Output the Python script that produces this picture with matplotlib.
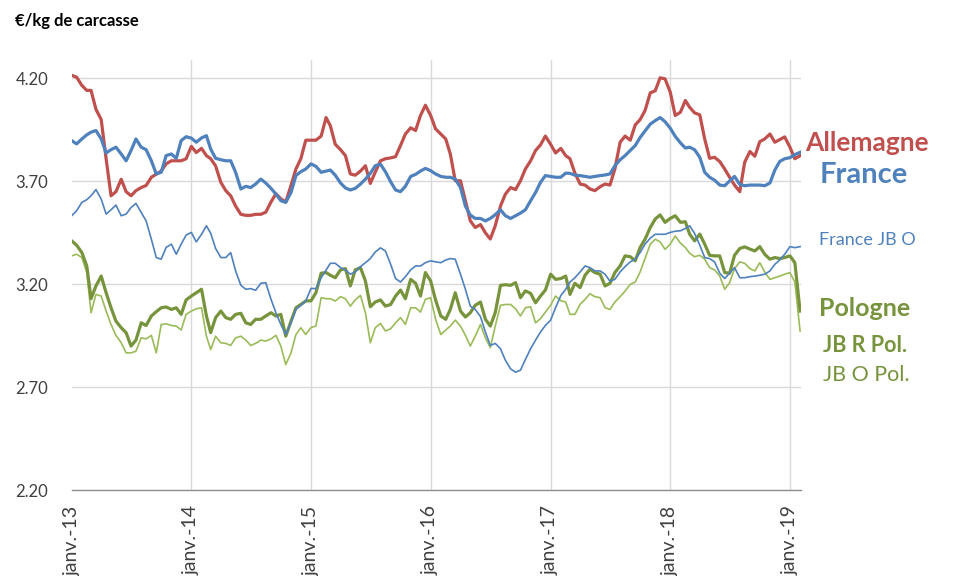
import datetime as dt
import matplotlib
matplotlib.use("Agg")
import matplotlib.pyplot as plt

plt.rcParams['font.family'] = ['Lato', 'DejaVu Sans']

# dates : 1er et 16 de chaque mois, janv. 2013 -> févr. 2019
dates = []
for annee in range(2013, 2020):
    for mois in range(1, 13):
        for jour in (1, 16):
            d = dt.date(annee, mois, jour)
            if d <= dt.date(2019, 2, 1):
                dates.append(d)

# €/kg de carcasse
allemagne = [
    4.215, 4.206, 4.166, 4.142, 4.142, 4.05, 4.00, 3.81, 3.63, 3.65, 3.71, 3.65,
    3.63, 3.655, 3.67, 3.68, 3.72, 3.735, 3.75, 3.785, 3.80, 3.80, 3.80, 3.81,
    3.87, 3.84, 3.86, 3.825, 3.81, 3.775, 3.695, 3.655, 3.63, 3.58, 3.54, 3.535,
    3.535, 3.54, 3.54, 3.55, 3.60, 3.64, 3.615, 3.60, 3.68, 3.76, 3.81, 3.90,
    3.90, 3.90, 3.92, 4.01, 3.97, 3.88, 3.854, 3.825, 3.736, 3.73, 3.75, 3.776,
    3.69, 3.745, 3.80, 3.81, 3.814, 3.82, 3.874, 3.93, 3.96, 3.947, 4.02, 4.07,
    4.02, 3.955, 3.93, 3.906, 3.833, 3.703, 3.703, 3.606, 3.508, 3.476, 3.49, 3.45,
    3.42, 3.484, 3.58, 3.638, 3.67, 3.66, 3.703, 3.76, 3.80, 3.85, 3.877, 3.92,
    3.88, 3.838, 3.86, 3.825, 3.81, 3.74, 3.687, 3.682, 3.663, 3.655, 3.674, 3.687,
    3.682, 3.76, 3.89, 3.92, 3.90, 3.974, 4.00, 4.044, 4.13, 4.14, 4.203, 4.198,
    4.133, 4.02, 4.036, 4.093, 4.06, 4.033, 4.023, 3.906, 3.812, 3.817, 3.796, 3.76,
    3.72, 3.682, 3.65, 3.793, 3.845, 3.822, 3.893, 3.906, 3.93, 3.89, 3.903, 3.916,
    3.866, 3.81, 3.825,
]

france = [
    3.898, 3.882, 3.906, 3.926, 3.939, 3.947, 3.906, 3.838, 3.854, 3.866, 3.833, 3.80,
    3.85, 3.906, 3.866, 3.854, 3.80, 3.736, 3.744, 3.825, 3.833, 3.812, 3.898, 3.917,
    3.91, 3.89, 3.911, 3.922, 3.857, 3.812, 3.805, 3.80, 3.80, 3.744, 3.663, 3.676,
    3.67, 3.687, 3.711, 3.692, 3.666, 3.638, 3.606, 3.598, 3.646, 3.728, 3.747, 3.76,
    3.785, 3.773, 3.744, 3.75, 3.755, 3.73, 3.692, 3.668, 3.658, 3.666, 3.687, 3.711,
    3.739, 3.776, 3.783, 3.747, 3.698, 3.658, 3.65, 3.676, 3.724, 3.734, 3.75, 3.763,
    3.752, 3.736, 3.724, 3.72, 3.72, 3.711, 3.67, 3.58, 3.536, 3.52, 3.52, 3.508,
    3.52, 3.538, 3.562, 3.533, 3.52, 3.533, 3.546, 3.562, 3.606, 3.646, 3.695, 3.728,
    3.724, 3.72, 3.72, 3.74, 3.739, 3.73, 3.728, 3.724, 3.72, 3.724, 3.728, 3.731,
    3.736, 3.776, 3.805, 3.825, 3.85, 3.874, 3.913, 3.945, 3.978, 3.995, 4.01, 3.99,
    3.958, 3.919, 3.887, 3.862, 3.866, 3.854, 3.817, 3.744, 3.72, 3.706, 3.682, 3.679,
    3.702, 3.724, 3.685, 3.679, 3.682, 3.682, 3.682, 3.679, 3.692, 3.755, 3.797, 3.81,
    3.815, 3.83, 3.841,
]

france_jbo = [
    3.533, 3.557, 3.598, 3.611, 3.63, 3.66, 3.614, 3.541, 3.562, 3.585, 3.533, 3.541,
    3.573, 3.593, 3.549, 3.508, 3.419, 3.33, 3.322, 3.379, 3.395, 3.346, 3.395, 3.439,
    3.452, 3.406, 3.443, 3.484, 3.448, 3.374, 3.33, 3.33, 3.354, 3.265, 3.195, 3.176,
    3.179, 3.171, 3.205, 3.208, 3.127, 3.062, 3.005, 2.956, 3.013, 3.078, 3.098, 3.119,
    3.18, 3.179, 3.232, 3.27, 3.302, 3.302, 3.281, 3.27, 3.249, 3.26, 3.286, 3.305,
    3.325, 3.357, 3.377, 3.362, 3.297, 3.228, 3.211, 3.237, 3.27, 3.289, 3.289, 3.305,
    3.314, 3.309, 3.305, 3.318, 3.325, 3.322, 3.249, 3.176, 3.094, 3.078, 3.043, 2.968,
    2.903, 2.913, 2.887, 2.831, 2.789, 2.773, 2.783, 2.835, 2.887, 2.929, 2.968, 3.00,
    3.026, 3.086, 3.145, 3.176, 3.211, 3.232, 3.26, 3.289, 3.281, 3.265, 3.265, 3.249,
    3.215, 3.224, 3.26, 3.286, 3.309, 3.322, 3.354, 3.395, 3.424, 3.443, 3.443, 3.443,
    3.452, 3.458, 3.46, 3.471, 3.484, 3.448, 3.39, 3.33, 3.325, 3.309, 3.254, 3.228,
    3.254, 3.281, 3.232, 3.232, 3.237, 3.24, 3.244, 3.249, 3.265, 3.297, 3.318, 3.346,
    3.383, 3.378, 3.383,
]

jbr_pol = [
    3.411, 3.39, 3.354, 3.289, 3.13, 3.192, 3.24, 3.159, 3.086, 3.021, 2.989, 2.965,
    2.90, 2.929, 3.013, 3.00, 3.046, 3.067, 3.086, 3.09, 3.078, 3.086, 3.054, 3.124,
    3.143, 3.159, 3.176, 3.046, 2.965, 3.038, 3.07, 3.038, 3.03, 3.054, 3.059, 3.013,
    3.005, 3.03, 3.03, 3.046, 3.062, 3.046, 3.054, 2.948, 3.021, 3.086, 3.102, 3.119,
    3.12, 3.159, 3.254, 3.257, 3.244, 3.232, 3.27, 3.276, 3.192, 3.27, 3.281, 3.216,
    3.091, 3.114, 3.124, 3.094, 3.102, 3.143, 3.172, 3.13, 3.224, 3.205, 3.143, 3.257,
    3.216, 3.124, 3.046, 3.03, 3.078, 3.159, 3.07, 3.041, 3.062, 3.098, 3.114, 3.03,
    2.997, 3.062, 3.195, 3.198, 3.195, 3.208, 3.135, 3.168, 3.156, 3.11, 3.143, 3.172,
    3.249, 3.224, 3.228, 3.24, 3.151, 3.205, 3.184, 3.244, 3.273, 3.257, 3.249, 3.192,
    3.205, 3.257, 3.289, 3.338, 3.334, 3.314, 3.379, 3.419, 3.476, 3.517, 3.537, 3.501,
    3.52, 3.533, 3.501, 3.504, 3.444, 3.411, 3.444, 3.395, 3.341, 3.338, 3.338, 3.257,
    3.254, 3.341, 3.374, 3.382, 3.371, 3.362, 3.383, 3.346, 3.322, 3.33, 3.325, 3.33,
    3.338, 3.305, 3.07,
]

jbo_pol = [
    3.338, 3.346, 3.33, 3.257, 3.062, 3.151, 3.143, 3.07, 3.005, 2.952, 2.916, 2.867,
    2.867, 2.875, 2.94, 2.935, 2.952, 2.867, 3.005, 3.008, 3.00, 2.997, 2.978, 3.054,
    3.07, 3.081, 3.086, 2.948, 2.883, 2.948, 2.916, 2.913, 2.903, 2.94, 2.948, 2.929,
    2.903, 2.913, 2.929, 2.924, 2.935, 2.952, 2.90, 2.81, 2.867, 2.956, 2.989, 2.956,
    2.99, 2.997, 3.135, 3.13, 3.13, 3.119, 3.14, 3.13, 3.094, 3.124, 3.146, 3.062,
    2.916, 2.989, 3.01, 2.973, 2.984, 3.013, 3.038, 3.005, 3.086, 3.086, 3.065, 3.127,
    3.135, 3.03, 2.956, 2.978, 2.997, 3.026, 2.997, 2.952, 2.90, 2.948, 3.005, 2.94,
    2.892, 2.997, 3.098, 3.102, 3.102, 3.081, 3.046, 3.086, 3.091, 3.013, 3.033, 3.065,
    3.098, 3.143, 3.12, 3.114, 3.054, 3.054, 3.103, 3.127, 3.154, 3.14, 3.135, 3.086,
    3.078, 3.114, 3.14, 3.167, 3.20, 3.211, 3.26, 3.325, 3.395, 3.419, 3.406, 3.37,
    3.395, 3.435, 3.40, 3.379, 3.351, 3.334, 3.341, 3.322, 3.281, 3.27, 3.24, 3.176,
    3.208, 3.276, 3.309, 3.302, 3.276, 3.265, 3.305, 3.26, 3.224, 3.232, 3.24, 3.249,
    3.257, 3.211, 2.973,
]

y_ticks = [2.20, 2.70, 3.20, 3.70, 4.20]
x_ticks = [dt.date(a, 1, 1) for a in range(2013, 2020)]
x_labels = ["janv.-%02d" % (a % 100) for a in range(2013, 2020)]

ROUGE = "#C0504D"
BLEU = "#4F81BD"
VERT = "#77933C"
VERT_CLAIR = "#9BBB59"

fig = plt.figure(figsize=(9.56, 5.76), dpi=100)
ax = fig.add_axes([0.075, 0.149, 0.7626, 0.747])

ax.plot(dates, jbo_pol, color=VERT_CLAIR, lw=1.2)
ax.plot(dates, jbr_pol, color=VERT, lw=2.3)
ax.plot(dates, france_jbo, color=BLEU, lw=1.2)
ax.plot(dates, allemagne, color=ROUGE, lw=2.3)
ax.plot(dates, france, color=BLEU, lw=2.3)

ax.set_xlim(dt.date(2013, 1, 1), dt.date(2019, 2, 3))
ax.set_ylim(2.20, 4.29)
ax.set_yticks(y_ticks)
ax.set_yticklabels(["%.2f" % v for v in y_ticks])
ax.set_xticks(x_ticks)
ax.set_xticklabels(x_labels, rotation=90, va="top", ha="center")

ax.tick_params(axis="both", length=0, labelcolor="#404040")
ax.tick_params(axis="y", pad=17, labelsize=12)
ax.tick_params(axis="x", pad=11, labelsize=14)

ax.grid(True, color="#D9D9D9", lw=1)
ax.set_axisbelow(True)
ax.get_xgridlines()[0].set_visible(False)
ax.get_ygridlines()[0].set_visible(False)
for side in ("left", "right", "top"):
    ax.spines[side].set_visible(False)
ax.spines["bottom"].set_color("#8C8C8C")
ax.spines["bottom"].set_linewidth(1)

fig.text(0.016, 0.964, "€/kg de carcasse", fontsize=12, fontweight="bold",
         color="black", va="center")

fig.text(0.842, 0.752, "Allemagne", fontsize=19, fontweight="bold", color=ROUGE, va="center")
fig.text(0.857, 0.696, "France", fontsize=21, fontweight="bold", color=BLEU, va="center")
fig.text(0.857, 0.583, "France JB O", fontsize=13, color=BLEU, va="center")
fig.text(0.857, 0.465, "Pologne", fontsize=18, fontweight="bold", color=VERT, va="center")
fig.text(0.861, 0.401, "JB R Pol.", fontsize=15.5, fontweight="bold", color=VERT, va="center")
fig.text(0.861, 0.349, "JB O Pol.", fontsize=15.5, color=VERT, va="center")

fig.savefig("out.png", dpi=100)
